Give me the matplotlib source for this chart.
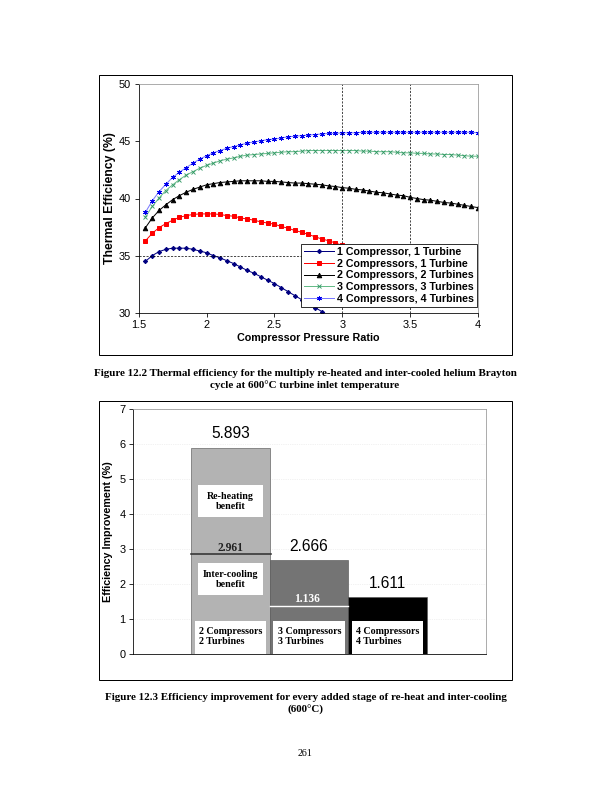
import numpy as np
import matplotlib
matplotlib.use("Agg")
import matplotlib.pyplot as plt
from matplotlib.patches import Rectangle

# ---- Figure 12.2 data: thermal efficiency (%) vs compressor pressure ratio
pressure_ratio = np.round(np.arange(1.55, 4.001, 0.05), 2)

eff_1c1t = [34.5, 35.0, 35.35, 35.55, 35.65, 35.65, 35.65, 35.55, 35.4, 35.25,
            35.0, 34.8, 34.55, 34.3, 34.0, 33.7, 33.45, 33.15, 32.85, 32.55,
            32.2, 31.85, 31.5, 31.15, 30.8, 30.45, 30.1, 29.75, 29.4]
eff_2c1t = [36.3, 36.95, 37.45, 37.8, 38.1, 38.35, 38.5, 38.6, 38.65, 38.65,
            38.65, 38.6, 38.5, 38.45, 38.3, 38.2, 38.1, 37.95, 37.85, 37.75,
            37.55, 37.4, 37.2, 37.05, 36.85, 36.65, 36.45, 36.3, 36.1,
            35.9, 35.7, 35.5, 35.3, 35.1, 34.9, 34.7, 34.5, 34.3, 34.1,
            33.9, 33.7, 33.5, 33.3, 33.1, 32.9, 32.7, 32.5, 32.3, 32.1]
eff_2c2t = [37.45, 38.3, 38.95, 39.45, 39.9, 40.25, 40.55, 40.8, 41.0, 41.2,
            41.3, 41.4, 41.45, 41.5, 41.55, 41.55, 41.55, 41.55, 41.5, 41.5,
            41.45, 41.4, 41.35, 41.35, 41.3, 41.25, 41.2, 41.1, 41.05, 40.95,
            40.9, 40.8, 40.75, 40.65, 40.55, 40.5, 40.4, 40.3, 40.25, 40.1,
            40.0, 39.9, 39.85, 39.75, 39.65, 39.6, 39.5, 39.4, 39.3, 39.2]
eff_3c3t = [38.4, 39.3, 40.05, 40.7, 41.2, 41.65, 42.05, 42.35, 42.65, 42.9,
            43.1, 43.3, 43.45, 43.55, 43.7, 43.8, 43.85, 43.9, 43.95, 44.0,
            44.05, 44.1, 44.1, 44.15, 44.2, 44.2, 44.2, 44.2, 44.2, 44.2,
            44.2, 44.2, 44.15, 44.15, 44.1, 44.1, 44.1, 44.05, 44.0, 44.0,
            43.95, 43.95, 43.9, 43.9, 43.85, 43.85, 43.8, 43.75, 43.7, 43.7]
eff_4c4t = [38.8, 39.8, 40.6, 41.25, 41.85, 42.3, 42.7, 43.1, 43.45, 43.75,
            44.0, 44.2, 44.4, 44.55, 44.7, 44.85, 44.95, 45.05, 45.15, 45.2,
            45.3, 45.4, 45.45, 45.5, 45.55, 45.6, 45.65, 45.7, 45.7, 45.75,
            45.75, 45.75, 45.8, 45.8, 45.8, 45.8, 45.8, 45.8, 45.8, 45.8,
            45.8, 45.8, 45.8, 45.8, 45.8, 45.8, 45.8, 45.8, 45.8, 45.75]

series_labels = ['1 Compressor, 1 Turbine', '2 Compressors, 1 Turbine',
                 '2 Compressors, 2 Turbines', '3 Compressors, 3 Turbines',
                 '4 Compressors, 4 Turbines']

# ---- Figure 12.3 data: efficiency improvement per added stage
stage_labels = ['2 Compressors\n2 Turbines', '3 Compressors\n3 Turbines',
                '4 Compressors\n4 Turbines']
improvement = [5.893, 2.666, 1.611]
split_labels = ['2.961', '1.136']
split_heights = [2.86, 1.36]   # where the divider lines are drawn

serif = 'Liberation Serif'
sans = 'Liberation Sans'
plt.rcParams['font.family'] = sans

W, H = 612, 792
fig = plt.figure(figsize=(8.5, 11), dpi=72)


def box(l, t, r, b):
    return [l / W, 1 - b / H, (r - l) / W, (b - t) / H]


# outer frames
for (l, t, r, b) in [(99, 75, 512, 355), (99, 401, 512, 680)]:
    fig.add_artist(Rectangle((l / W, 1 - b / H), (r - l) / W, (b - t) / H,
                             transform=fig.transFigure, fill=False,
                             edgecolor='black', lw=1.0))

# ================= top chart =================
ax = fig.add_axes(box(138.7, 84.3, 478, 312.7))
styles = [
    dict(color='#000080', marker='D', ms=3, mfc='#000080', mec='#000080'),
    dict(color='#ff0000', marker='s', ms=4.5, mfc='#ff0000', mec='#ff0000'),
    dict(color='#000000', marker='^', ms=4.5, mfc='#000000', mec='#000000'),
    dict(color='#66bb88', marker='x', ms=4, mfc='#339966', mec='#339966', mew=0.9),
    dict(color='#7777ff', marker=(6, 2, 0), ms=5, mec='#0000ee', mew=0.9),
]
for vals, lab, st in zip([eff_1c1t, eff_2c1t, eff_2c2t, eff_3c3t, eff_4c4t],
                         series_labels, styles):
    ax.plot(pressure_ratio[:len(vals)], vals, lw=1.0, label=lab, **st)

ax.axvline(3.0, color='black', ls=(0, (3, 2)), lw=0.7)
ax.axvline(3.5, color='black', ls=(0, (3, 2)), lw=0.7)
ax.plot([1.5, 3.0], [35, 35], color='black', ls=(0, (3, 2)), lw=0.7)

ax.set_xlim(1.5, 4.0)
ax.set_ylim(30, 50)
ax.set_xticks([1.5, 2, 2.5, 3, 3.5, 4])
ax.set_xticklabels(['1.5', '2', '2.5', '3', '3.5', '4'])
ax.set_yticks([30, 35, 40, 45, 50])
ax.tick_params(direction='out', length=4, width=0.8, labelsize=11)
for s in ['top', 'right']:
    ax.spines[s].set_color('#999999')
ax.set_xlabel('Compressor Pressure Ratio', fontsize=10.8, fontweight='bold', labelpad=3)
ax.set_ylabel('Thermal Efficiency (%)', fontsize=12.3, fontweight='bold', labelpad=3)

leg = ax.legend(loc='lower right', bbox_to_anchor=(0.997, 0.025),
                prop=dict(weight='bold', size=10.6), fancybox=False,
                framealpha=1, edgecolor='black', borderpad=0.3,
                labelspacing=0.16, handlelength=2.8, handletextpad=0.3,
                borderaxespad=0)
leg.get_frame().set_linewidth(0.8)
leg.set_zorder(5)

fig.text(305 / W, 1 - 373 / H,
         'Figure 12.2 Thermal efficiency for the multiply re-heated and inter-cooled helium Brayton',
         ha='center', va='center', family=serif, fontweight='bold', fontsize=11)
fig.text(305 / W, 1 - 385.5 / H, 'cycle at 600°C turbine inlet temperature',
         ha='center', va='center', family=serif, fontweight='bold', fontsize=11)

# ================= bottom chart =================
bx = fig.add_axes(box(133, 409.3, 486, 653.5))
pos = np.arange(len(improvement))
bar_colors = ['#b3b3b3', '#747474', '#000000']
bx.bar(pos, improvement, width=1.0, color=bar_colors, edgecolor='#555555', lw=0.6, zorder=2)
bx.set_xlim(-1.245, 3.255)
bx.set_ylim(0, 7)
bx.set_yticks(range(0, 8))
bx.set_xticks([])
bx.tick_params(direction='out', length=4, width=0.8, labelsize=11)
for s in ['top', 'right']:
    bx.spines[s].set_color('#999999')
bx.yaxis.grid(True, color='#dddddd', ls=(0, (1, 2)), lw=0.6)
bx.set_axisbelow(True)
bx.set_ylabel('Efficiency Improvement (%)', fontsize=10.8, fontweight='bold', labelpad=6)

# value labels above bars
for p, v, dy in zip(pos, improvement, [0.42, 0.4, 0.39]):
    bx.text(p, v + dy, f'{v:.3f}', ha='center', va='center', fontsize=15.5, zorder=4)

# divider lines and their values
bx.plot([-0.5, 0.52], [split_heights[0]] * 2, color='#333333', lw=1.6, zorder=3)
bx.plot([0.5, 1.5], [split_heights[1]] * 2, color='white', lw=1.4, zorder=3)
bx.text(0, 3.03, split_labels[0], ha='center', va='center', family=serif,
        fontweight='bold', fontsize=11.5, color='#222222', zorder=4)
bx.text(0.97, 1.56, split_labels[1], ha='center', va='center', family=serif,
        fontweight='bold', fontsize=11.5, color='white', zorder=4)

# benefit boxes in first bar
for (y0, y1, txt) in [(3.91, 4.83, 'Re-heating\nbenefit'),
                      (1.68, 2.585, 'Inter-cooling\nbenefit')]:
    bx.add_patch(Rectangle((-0.415, y0), 0.83, y1 - y0, facecolor='white',
                           edgecolor='none', zorder=3))
    bx.text(0, (y0 + y1) / 2, txt, ha='center', va='center', family=serif,
            fontweight='bold', fontsize=10, linespacing=1.15, zorder=4)

# stage label boxes at bar bottoms
for p, lab in zip(pos, stage_labels):
    bx.add_patch(Rectangle((p - 0.455, 0), 0.91, 0.94, facecolor='white',
                           edgecolor='none', zorder=3))
    bx.text(p - 0.4, 0.48, lab, ha='left', va='center', family=serif,
            fontweight='bold', fontsize=10, linespacing=1.2, zorder=4)

fig.text(305.5 / W, 1 - 697 / H,
         'Figure 12.3 Efficiency improvement for every added stage of re-heat and inter-cooling',
         ha='center', va='center', family=serif, fontweight='bold', fontsize=11)
fig.text(305.5 / W, 1 - 709.5 / H, '(600°C)',
         ha='center', va='center', family=serif, fontweight='bold', fontsize=11)

fig.text(305 / W, 1 - 754 / H, '261', ha='center', va='center',
         family=serif, fontsize=10)

fig.savefig('out.png', dpi=72)
